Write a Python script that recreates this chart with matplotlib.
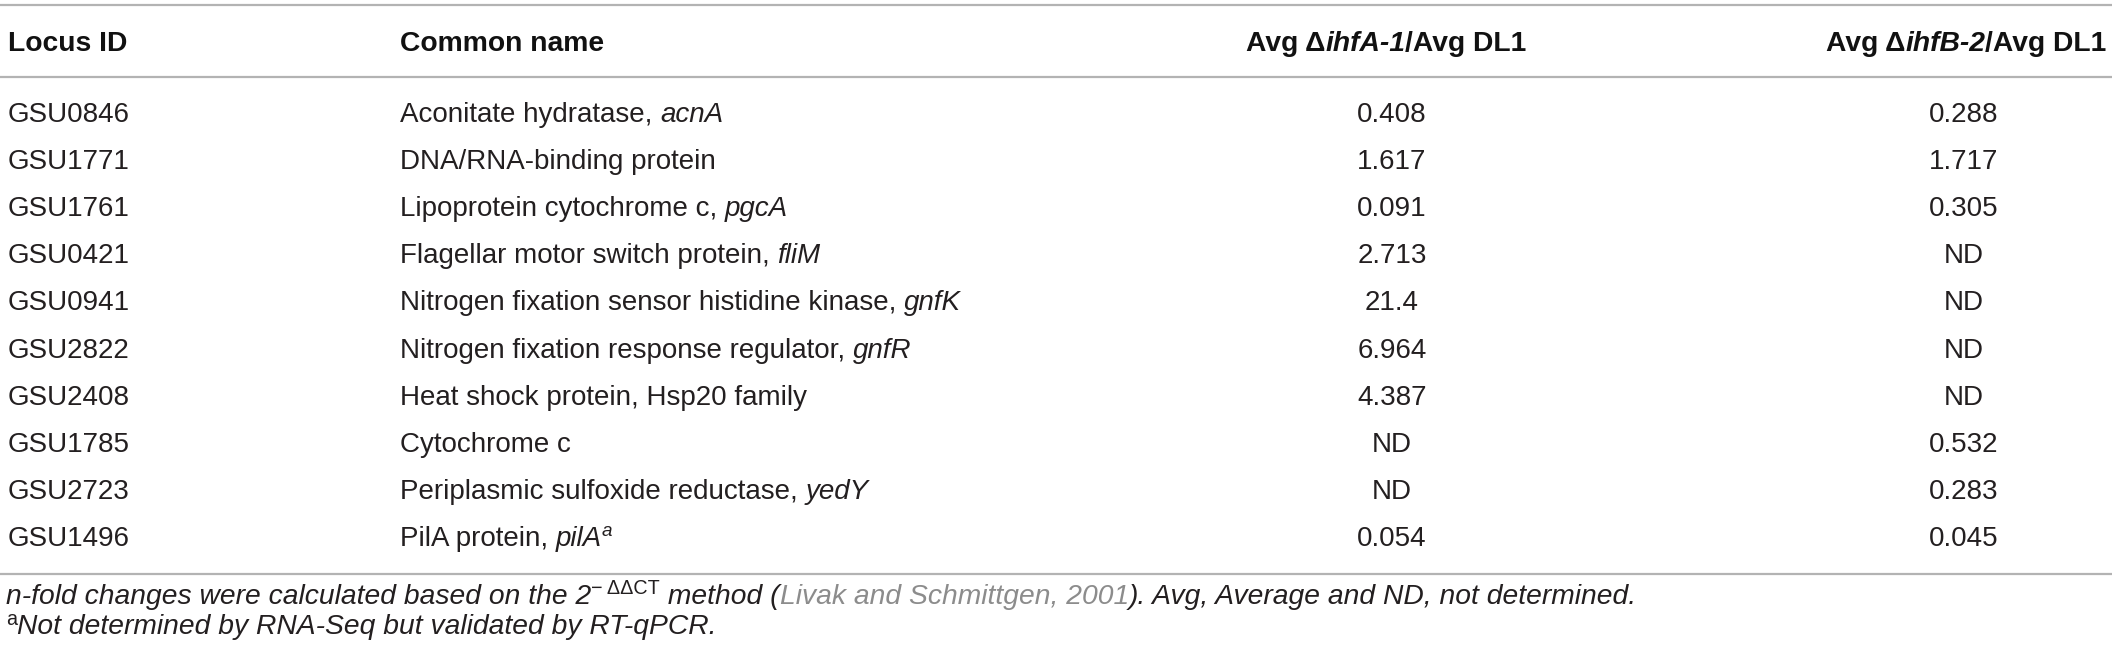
import matplotlib
matplotlib.use("Agg")
import matplotlib.pyplot as plt

# ---------------- data ----------------
headers = ["Locus ID", "Common name", "Avg \u0394ihfA-1/Avg DL1", "Avg \u0394ihfB-2/Avg DL1"]
locus_ids = ["GSU0846", "GSU1771", "GSU1761", "GSU0421", "GSU0941",
             "GSU2822", "GSU2408", "GSU1785", "GSU2723", "GSU1496"]
name_text = ["Aconitate hydratase, ", "DNA/RNA-binding protein",
             "Lipoprotein cytochrome c, ", "Flagellar motor switch protein, ",
             "Nitrogen fixation sensor histidine kinase, ",
             "Nitrogen fixation response regulator, ",
             "Heat shock protein, Hsp20 family", "Cytochrome c",
             "Periplasmic sulfoxide reductase, ", "PilA protein, "]
gene_names = ["acnA", "", "pgcA", "fliM", "gnfK", "gnfR", "", "", "yedY", "pilA"]
gene_marks = ["", "", "", "", "", "", "", "", "", "a"]
ratio_ihfA = ["0.408", "1.617", "0.091", "2.713", "21.4", "6.964", "4.387", "ND", "ND", "0.054"]
ratio_ihfB = ["0.288", "1.717", "0.305", "ND", "ND", "ND", "ND", "0.532", "0.283", "0.045"]

# ---------------- layout ----------------
W, H = 2118, 665
DPI = 100
FONT = "Liberation Sans"
BODY = 20
HEAD = 20.3
FOOT = 20.3
TXT = "#231f20"
LINK = "#8c8c8c"
RULE = "#b3b3b3"

fig = plt.figure(figsize=(W / DPI, H / DPI), dpi=DPI)
ax = fig.add_axes([0, 0, 1, 1])
ax.set_xlim(0, W)
ax.set_ylim(H, 0)
ax.axis("off")
fig.canvas.draw()
R = fig.canvas.get_renderer()


def width(s, **kw):
    if s == "":
        return 0.0
    t1 = ax.text(0, 0, "|" + s + "|", fontfamily=FONT, **kw)
    t2 = ax.text(0, 0, "||", fontfamily=FONT, **kw)
    w = t1.get_window_extent(R).width - t2.get_window_extent(R).width
    t1.remove(); t2.remove()
    return w


def draw(x, y, segs, align="left"):
    """segs: list of (text, kwargs, dy)"""
    ws = [width(s, **kw) for s, kw, dy in segs]
    tot = sum(ws)
    if align == "center":
        x = x - tot / 2
    elif align == "right":
        x = x - tot
    for (s, kw, dy), w in zip(segs, ws):
        if s:
            ax.text(x, y + dy, s, fontfamily=FONT, va="baseline", ha="left", **kw)
        x += w
    return x


def body(**extra):
    d = dict(fontsize=BODY, color=TXT)
    d.update(extra)
    return d


def head(**extra):
    d = dict(fontsize=HEAD, color="#111111", fontweight="bold")
    d.update(extra)
    return d


# rules
for yy in (5, 77, 574):
    ax.plot([0, 2112], [yy, yy], color=RULE, lw=1.6, solid_capstyle="butt")

# column x
X_ID = 8
X_NAME = 400
X_C3H, X_C3 = 1386, 1392
X_C4H, X_C4 = 1966, 1964

# header
hb = 41 + 10
draw(X_ID, hb, [(headers[0], head(), 0)])
draw(X_NAME, hb, [(headers[1], head(), 0)])
draw(X_C3H, hb, [("Avg \u0394", head(), 0), ("ihfA-1", head(fontstyle="italic"), 0),
                 ("/Avg DL1", head(), 0)], align="center")
draw(X_C4H, hb, [("Avg \u0394", head(), 0), ("ihfB-2", head(fontstyle="italic"), 0),
                 ("/Avg DL1", head(), 0)], align="center")

# rows
for k in range(len(locus_ids)):
    yc = 112 + k * 47.1
    yb = yc + 10
    draw(X_ID, yb, [(locus_ids[k], body(), 0)])
    segs = [(name_text[k], body(), 0), (gene_names[k], body(fontstyle="italic"), 0)]
    if gene_marks[k]:
        segs.append((gene_marks[k], body(fontsize=BODY * 0.68, fontstyle="italic"), -10))
    draw(X_NAME, yb, segs)
    draw(X_C3, yb, [(ratio_ihfA[k], body(), 0)], align="center")
    draw(X_C4, yb, [(ratio_ihfB[k], body(), 0)], align="center")

# footnotes
it = dict(fontsize=FOOT, color=TXT, fontstyle="italic")
sup = dict(fontsize=FOOT * 0.7, color=TXT)
draw(6, 604, [("n-fold changes were calculated based on the 2", it, 0),
              ("\u2212 \u0394\u0394CT", sup, -10),
              (" method (", it, 0),
              ("Livak and Schmittgen, 2001", dict(it, color=LINK), 0),
              ("). Avg, Average and ND, not determined.", it, 0)])
draw(6, 634, [("a", sup, -9), ("Not determined by RNA-Seq but validated by RT-qPCR.", it, 0)])

fig.savefig("out.png", dpi=DPI)
